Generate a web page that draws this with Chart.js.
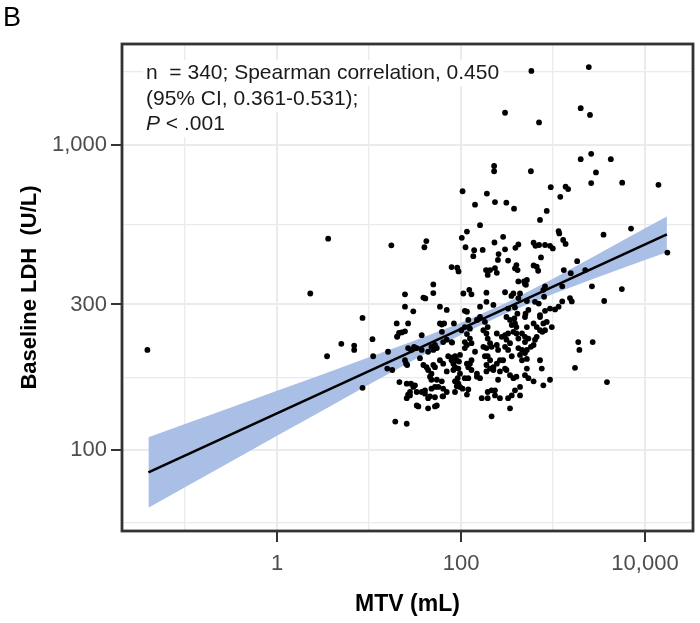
<!DOCTYPE html>
<html>
<head>
<meta charset="utf-8">
<script src="https://cdn.jsdelivr.net/npm/chart.js@4.4.0/dist/chart.umd.min.js"></script>
<style>
html,body{margin:0;padding:0;background:#fff;}
#wrap{position:relative;width:700px;height:623px;}
</style>
</head>
<body>
<div id="wrap"><canvas id="c" width="700" height="623"></canvas></div>
<script>
// ---- data ----
const mtvValues = [
0.039,2.3,3.6,3.5,5.0,6.9,6.9,8.5,10.9,11.1,
8.5,16.1,20.2,15.8,17.9,19.3,21.4,25.7,17.5,24.6,
39,41,50,50,24.6,30.3,59,70,26.6,24.6,
20.3,22.7,37.4,26.6,28.7,30.9,35.8,24.6,25.3,26,
42.2,43.9,47.7,52.1,46,47.7,28.6,30.3,31.6,26.6,
25.7,33,37.4,40.6,46,47.7,52.1,56.6,64,33,
34.4,43.9,52.1,59,61.8,65.5,83.7,47.7,50,52.1,
43.9,54.6,59,64,72.6,79.1,86,90,82.6,86,
50,70,92,97.5,93.5,90,104,116,54.6,61.8,
64,70,86,27.9,54.6,63,20,21.2,37.4,80,
110,116,116,106,123,130,40,42,102,116,
112,104,79,91,94,139,136,172,231,287,
301,390,420,615,645,706,819,928,995,740,
256,252,325,400,386,412,615,665,690,420,
485,508,187,207,234,245,195,1310,1560,1830,
2240,2650,5600,17500,819,1260,371,301,353,438,
496,520,785,800,1260,1530,1600,3600,582,2450,
301,705,2000,2524,229,229,575,2000,2600,4250,
2930,2600,5650,14000,945,1370,1460,1200,191,142,
234,311,377,855,722,161,1150,1170,1290,1370,
3540,7050,101,110,120,149,161,175,189,245,
301,325,312,341,356,386,400,496,520,615,
665,722,785,855,970,722,765,161,189,225,
325,386,410,503,520,700,722,819,928,1052,
1150,62,64,70,79,79,97.5,82.6,93.5,86,
97.5,120,120,125,130,142,110,125,130,149,
161,149,168,195,234,265,189,207,195,182,
189,207,225,245,265,215,215,245,253,277,
253,265,301,325,341,312,341,325,341,356,
386,438,371,400,420,438,460,496,520,575,
520,496,540,615,637,665,722,755,785,928,
1734,1880,1935,2700,3860,312,460,496,287,
189,420,125,182,195,380,371,420,400,540,
637,819,540,615,460,496,356,175,215,110,
116,130,110,195,207,225,189,301,120,195,
234,438,520,
33,39,25.7,27.9,95,116,
40.6,43.9,52.1
];
const ldhValues = [
213,326,493,203,223,220,213,271,231,203,
160,210,235,185,183,124,167,122,469,324,
316,314,349,327,295,285,295,288,260,245,
236,243,238,216,213,218,200,197,192,190,
187,183,178,187,174,170,165,161,163,152,
148,155,155,157,150,159,161,161,150,140,
139,137,139,260,258,260,260,218,213,221,
210,216,197,192,203,201,203,197,192,187,
190,181,172,178,165,162,159,152,170,168,
159,155,155,151,140,150,260,242,213,225,
286,284,240,326,335,324,462,484,496,520,
462,705,398,396,385,452,432,453,479,500,
455,460,472,478,467,470,470,467,458,428,
439,420,418,404,394,389,403,399,387,357,
357,348,389,389,395,381,375,389,380,416,
389,344,337,444,344,344,326,329,320,326,
350,361,335,318,307,315,307,308,1748,1800,
1275,1185,1320,1254,853,820,820,898,935,898,
813,750,752,740,727,730,717,676,693,637,
650,647,618,608,568,546,522,513,488,474,
508,532,247,253,267,267,273,247,241,241,
238,241,273,267,257,260,253,273,253,260,
253,273,260,263,253,247,244,295,306,299,
291,293,280,280,308,302,277,286,291,289,
295,244,226,230,226,197,205,183,185,168,
161,172,187,192,197,210,226,232,224,174,
172,178,148,148,157,148,216,224,232,203,
190,185,187,192,181,157,129,221,213,235,
170,197,218,213,224,183,176,148,137,151,
157,151,172,174,216,205,197,226,213,218,
185,176,172,168,230,235,197,185,163,170,
186,226,213,226,167,230,241,235,197,
328,315,250,263,253,270,244,232,241,288,
306,247,232,221,213,208,203,218,218,216,
192,183,172,203,197,183,181,185,158,155,
151,161,199,
216,190,165,155,195,221,
153,148,149
];
// regression line and its confidence band
const fitMTV = [0.04, 17300];
const fitLDH = [84.5, 509];
const bandMTV   = [0.04, 0.1, 0.3, 1, 3, 10, 30, 100, 300, 1000, 3000, 10000, 17300];
const bandUpper = [110.2,121.7,137.2,156.4,176.3,201.3,227.5,261.6,302.5,364.4,436.5,533.7,583.3];
const bandLower = [64.7, 75.5, 90.9,111.4,133.9,163.9,196.6,238.8,280.0,324.6,367.5,419.8,444.9];
// axes
const xGridValues = [0.1, 1, 10, 100, 1000, 10000];
const xTickLabels = {1: '1', 100: '100', 10000: '10,000'};
const yGridValues = [57.7, 100, 173.2, 300, 547.7, 1000, 1733];
const yTickLabels = {100: '100', 300: '300', 1000: '1,000'};
const xRange = [0.02066, 33240];
const yRange = [54.3, 2142];
const annotationLines = ['n  = 340; Spearman correlation, 0.450', '(95% CI, 0.361-0.531);', ' < .001'];
const panelLetter = 'B';
const xTitle = 'MTV (mL)';
const yTitle = 'Baseline LDH  (U/L)';

// ---- build ----
const FONT = '"Liberation Sans", Arial, Helvetica, sans-serif';
const points = mtvValues.map((x, i) => ({x: x, y: ldhValues[i]}));
const fitLine = fitMTV.map((x, i) => ({x: x, y: fitLDH[i]}));
const upper = bandMTV.map((x, i) => ({x: x, y: bandUpper[i]}));
const lower = bandMTV.map((x, i) => ({x: x, y: bandLower[i]}));

function isMajor(labels, v) {
  return Object.keys(labels).some(k => Math.abs(Number(k) - v) / v < 1e-6);
}
function labelFor(labels, v) {
  for (const k of Object.keys(labels)) if (Math.abs(Number(k) - v) / v < 1e-6) return labels[k];
  return '';
}
function gridOpts(labels) {
  return {
    color: '#ebebeb',
    lineWidth: ctx => (ctx.tick && isMajor(labels, ctx.tick.value)) ? 2 : 1.3,
    tickColor: ctx => (ctx.tick && isMajor(labels, ctx.tick.value)) ? '#333333' : 'rgba(0,0,0,0)',
    tickWidth: 2,
    tickLength: 11,
    drawTicks: true,
    drawOnChartArea: true,
    offset: false
  };
}

const AFS = 21; // annotation font size
const overlayPlugin = {
  id: 'overlay',
  afterDatasetsDraw(chart) {
    const ctx = chart.ctx;
    ctx.save();
    ctx.textBaseline = 'middle';
    const x0 = 146;
    const ys = [73, 99, 124];
    ctx.font = 'italic ' + AFS + 'px ' + FONT;
    const pW = ctx.measureText('P').width;
    ctx.font = AFS + 'px ' + FONT;
    const widths = [ctx.measureText(annotationLines[0]).width, ctx.measureText(annotationLines[1]).width, pW + ctx.measureText(annotationLines[2]).width];
    ctx.fillStyle = '#ffffff';
    for (let i = 0; i < 3; i++) {
      ctx.fillRect(x0 - 3, ys[i] - 13, widths[i] + 7, 26);
    }
    ctx.fillStyle = '#1a1a1a';
    ctx.fillText(annotationLines[0], x0, ys[0]);
    ctx.fillText(annotationLines[1], x0, ys[1]);
    ctx.font = 'italic ' + AFS + 'px ' + FONT;
    ctx.fillText('P', x0, ys[2]);
    ctx.font = AFS + 'px ' + FONT;
    ctx.fillText(annotationLines[2], x0 + pW, ys[2]);
    ctx.restore();
  },
  afterDraw(chart) {
    const ctx = chart.ctx;
    const a = chart.chartArea;
    ctx.save();
    ctx.strokeStyle = '#333333';
    ctx.lineWidth = 2.8;
    ctx.strokeRect(a.left, a.top, a.right - a.left, a.bottom - a.top);
    ctx.fillStyle = '#000';
    ctx.font = '27px ' + FONT;
    ctx.textBaseline = 'middle';
    ctx.fillText(panelLetter, 3, 19);
    ctx.restore();
  }
};

new Chart(document.getElementById('c'), {
  type: 'scatter',
  data: {
    datasets: [
      {label: 'patients', data: points, pointRadius: 2.9, pointHoverRadius: 2.9,
       pointBackgroundColor: '#000', pointBorderWidth: 0, borderColor: '#000', order: 0},
      {type: 'line', label: 'fit', data: fitLine, borderColor: '#000', borderWidth: 2.6,
       pointRadius: 0, fill: false, tension: 0, order: 1},
      {type: 'line', label: 'upper', data: upper, borderColor: 'rgba(0,0,0,0)', borderWidth: 1,
       pointRadius: 0, backgroundColor: '#a9bfe6', fill: '+1', tension: 0, order: 2},
      {type: 'line', label: 'lower', data: lower, borderColor: 'rgba(0,0,0,0)', borderWidth: 1,
       pointRadius: 0, fill: false, tension: 0, order: 3}
    ]
  },
  options: {
    responsive: false,
    animation: false,
    devicePixelRatio: 1,
    layout: {padding: {top: 44, right: 7, left: 0, bottom: 0}},
    plugins: {legend: {display: false}, tooltip: {enabled: false}},
    scales: {
      x: {
        type: 'logarithmic', position: 'bottom',
        min: xRange[0], max: xRange[1],
        afterBuildTicks: s => { s.ticks = xGridValues.map(v => ({value: v})); },
        afterFit: s => { s.height = 623 - 531; },
        grid: gridOpts(xTickLabels),
        border: {display: false},
        ticks: {
          autoSkip: false, maxRotation: 0, padding: 9, color: '#4d4d4d',
          font: {family: FONT, size: 22},
          callback: v => labelFor(xTickLabels, v)
        },
        title: {display: true, text: xTitle, color: '#000',
          font: {family: FONT, size: 23, weight: 'bold'}, padding: {bottom: 5, top: 0}}
      },
      y: {
        type: 'logarithmic', position: 'left',
        min: yRange[0], max: yRange[1],
        afterBuildTicks: s => { s.ticks = yGridValues.map(v => ({value: v})); },
        afterFit: s => { s.width = 122; },
        grid: gridOpts(yTickLabels),
        border: {display: false},
        ticks: {
          autoSkip: false, padding: 4, color: '#4d4d4d',
          font: {family: FONT, size: 22},
          callback: v => labelFor(yTickLabels, v)
        },
        title: {display: true, text: yTitle, color: '#000',
          font: {family: FONT, size: 22, weight: 'bold'}, padding: {top: 17, bottom: 0}}
      }
    }
  },
  plugins: [overlayPlugin]
});
</script>
</body>
</html>
